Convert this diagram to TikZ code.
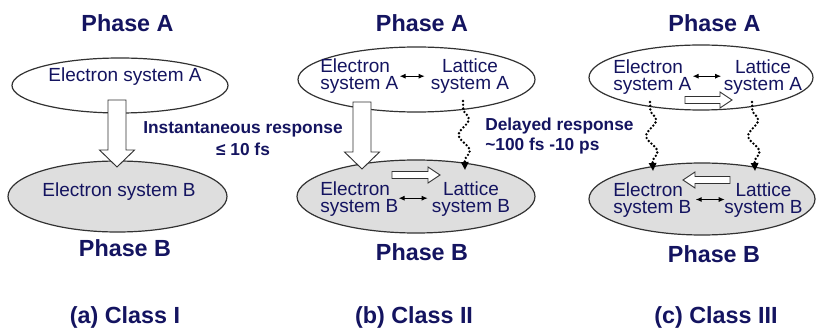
\documentclass[tikz,border=0pt]{standalone}
\usepackage{fontspec}
\setmainfont{Liberation Sans}
\usetikzlibrary{shapes.geometric,arrows.meta,decorations.pathmorphing,calc}
\definecolor{navy}{RGB}{20,20,96}
\definecolor{phaseB}{RGB}{222,222,222}
\definecolor{edge}{RGB}{50,50,50}
\newcommand\vblk[4]{% x, ytop, yheadbase, ytip
  \draw[blk] ({#1-9},{#2}) -- ({#1-9},{#3}) -- ({#1-17.5},{#3}) -- ({#1},{#4})
    -- ({#1+17.5},{#3}) -- ({#1+9},{#3}) -- ({#1+9},{#2}) -- cycle;}
\newcommand\hblk[4]{% y, xtail, xheadbase, xtip
  \draw[blk] ({#2},{#1-3.5}) -- ({#3},{#1-3.5}) -- ({#3},{#1-8}) -- ({#4},{#1})
    -- ({#3},{#1+8}) -- ({#3},{#1+3.5}) -- ({#2},{#1+3.5}) -- cycle;}
\begin{document}
\begin{tikzpicture}[x=0.75pt,y=-0.75pt,
  title/.style={font=\bfseries\fontsize{17.5}{21}\selectfont, text=navy, inner sep=0pt, anchor=base},
  lbl/.style={font=\fontsize{14.25}{12.75}\selectfont, text=navy, inner sep=0pt},
  resp/.style={font=\bfseries\fontsize{13}{16.5}\selectfont, text=navy, inner sep=0pt},
  phA/.style={ellipse, draw=edge, line width=0.9pt, fill=white, inner sep=0pt},
  phB/.style={phA, fill=phaseB},
  blk/.style={draw=edge, line width=0.7pt, fill=white, line join=miter},
  dbl/.style={line width=0.7pt, black, {Latex[length=4.5pt,width=3.8pt]}-{Latex[length=4.5pt,width=3.8pt]}},
  wavy/.style={black, line width=2pt, line cap=round, dash pattern=on 0pt off 2.8pt,
    decorate, decoration={snake, amplitude=4pt, segment length=24pt, pre length=6pt, post length=6pt},
    -{Triangle[length=6pt,width=5.5pt]}}
]
\fill[white] (0,0) rectangle (816,331);
\useasboundingbox (0,0) rectangle (816,331);

% ---------- ellipses ----------
\node[phA, minimum width=162pt,    minimum height=41.25pt] (aA) at (120,85.5) {};
\node[phB, minimum width=164.25pt, minimum height=53.25pt] (aB) at (117.5,196.5) {};
\node[phA, minimum width=177.75pt, minimum height=48.75pt] (bA) at (416.5,79.5) {};
\node[phB, minimum width=178.5pt,  minimum height=54.75pt] (bB) at (416,196.5) {};
\node[phA, minimum width=168pt,    minimum height=48.75pt] (cA) at (701,77.5) {};
\node[phB, minimum width=169.5pt,  minimum height=54pt]    (cB) at (702,199) {};

% ---------- titles ----------
\node[title] (aTA) at (127.5,32) {Phase A};
\node[title] (bTA) at (422,32) {Phase A};
\node[title] (cTA) at (714.5,32) {Phase A};
\node[title] (aTB) at (125,256) {Phase B};
\node[title] (bTB) at (422,260) {Phase B};
\node[title] (cTB) at (714,262) {Phase B};
\node[title] (aCl) at (125,323) {(a) Class I};
\node[title] (bCl) at (414,323) {(b) Class II};
\node[title] (cCl) at (716,323) {(c) Class III};

% ---------- system labels ----------
\node[lbl, anchor=base] (aEA) at (125,82) {Electron system A};
\node[lbl, anchor=base] (aEB) at (119,197) {Electron system B};
\node[lbl, align=left, anchor=west] (bEA) at (320,75.7) {Electron\\system A};
\node[lbl, align=center] (bLA) at (470,75.7) {Lattice\\system A};
\node[lbl, align=left, anchor=west] (bEB) at (320,198.7) {Electron\\system B};
\node[lbl, align=center] (bLB) at (471,198.7) {Lattice\\system B};
\node[lbl, align=left, anchor=west] (cEA) at (613,76.7) {Electron\\system A};
\node[lbl, align=center] (cLA) at (763,76.7) {Lattice\\system A};
\node[lbl, align=left, anchor=west] (cEB) at (613,200.5) {Electron\\system B};
\node[lbl, align=center] (cLB) at (763.5,200.5) {Lattice\\system B};

% ---------- coupling arrows ----------
\draw[dbl] ($(bEA.east)+(1,0.5)$) -- ($(bLA.west)+(-6,0.5)$);
\draw[dbl] ($(bEB.east)+(0,-0.5)$) -- ($(bLB.west)+(-4,-0.5)$);
\draw[dbl] ($(cEA.east)+(1,-0.5)$) -- ($(cLA.west)+(-2.5,-0.5)$);
\draw[dbl] ($(cEB.east)+(4,-1)$) -- ($(cLB.west)+(0.5,-1)$);

% ---------- block arrows ----------
\vblk{117}{100}{150}{167}
\vblk{362}{102}{152}{169}
\hblk{175}{392}{428}{440}
\hblk{100}{685}{720}{732}
\hblk{180}{730}{695}{683}

% ---------- delayed (wavy) arrows ----------
\coordinate (bW1) at (463,101);
\coordinate (bW2) at (465,170);
\coordinate (cW1) at (650,102);
\coordinate (cW2) at (653,171);
\coordinate (cW3) at (752,102);
\coordinate (cW4) at (755,171);
\draw[wavy] (bW1) -- (bW2);
\draw[wavy] (cW1) -- (cW2);
\draw[wavy] (cW3) -- (cW4);

% ---------- response labels ----------
\node[resp, align=center] (inst) at (243,138.5) {Instantaneous response\\≤ 10 fs};
\node[resp, align=left, anchor=west, font=\bfseries\fontsize{13}{15}\selectfont] (dly) at (485,135.6)
  {Delayed response\\\textasciitilde100 fs -10 ps};
\end{tikzpicture}
\end{document}
